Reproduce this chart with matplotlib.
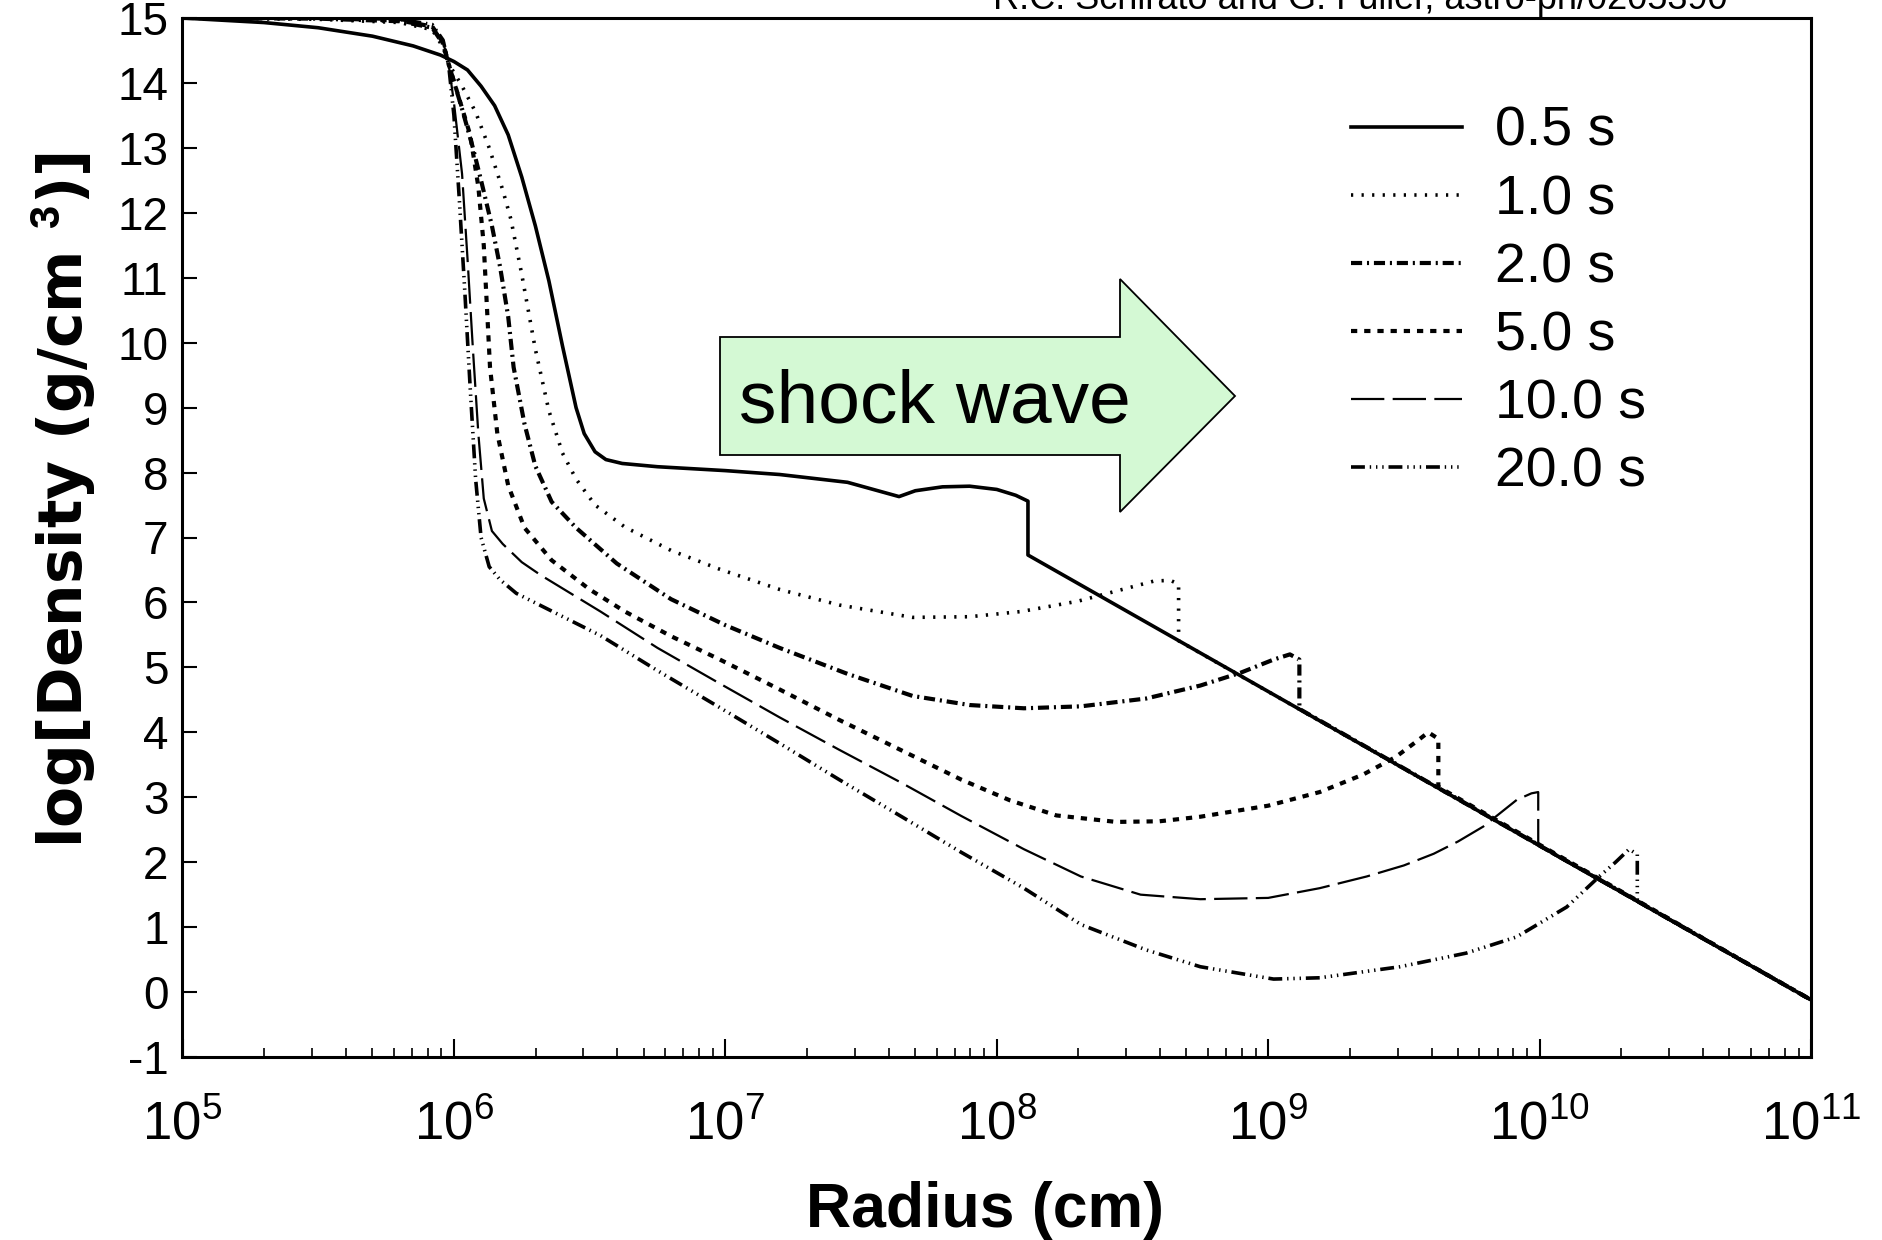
import matplotlib.pyplot as plt
import numpy as np
from matplotlib.patches import Polygon

plt.rcParams['font.family'] = ['Liberation Sans', 'DejaVu Sans']
plt.rcParams['mathtext.fontset'] = 'custom'
plt.rcParams['mathtext.rm'] = 'Liberation Sans'
plt.rcParams['mathtext.it'] = 'Liberation Sans:italic'
plt.rcParams['mathtext.bf'] = 'Liberation Sans:bold'
plt.rcParams['axes.unicode_minus'] = False
plt.rcParams['lines.scale_dashes'] = False

# time labels of the density profiles
times = ['0.5 s', '1.0 s', '2.0 s', '5.0 s', '10.0 s', '20.0 s']

# log10(radius / cm) and log10(density / g cm^-3)
logr_05 = [5.0, 5.3, 5.5, 5.7, 5.85, 5.95, 6.0, 6.05, 6.1, 6.15, 6.2, 6.25, 6.3, 6.35,
           6.4, 6.45, 6.48, 6.52, 6.56, 6.62, 6.75, 7.0, 7.2, 7.45, 7.64, 7.7, 7.8,
           7.9, 8.0, 8.07, 8.115, 8.115, 11.0]
rho_05 = [15.0, 14.93, 14.85, 14.72, 14.57, 14.43, 14.33, 14.2, 13.95, 13.65, 13.2,
          12.55, 11.8, 10.95, 9.95, 9.0, 8.6, 8.32, 8.2, 8.14, 8.09, 8.03, 7.97, 7.85,
          7.63, 7.72, 7.78, 7.79, 7.74, 7.65, 7.56, 6.73, -0.12]

logr_10 = [5.0, 5.5, 5.8, 5.92, 5.96, 5.98, 6.03, 6.08, 6.13, 6.18, 6.21, 6.25, 6.3,
           6.35, 6.4, 6.45, 6.52, 6.63, 6.8, 6.98, 7.2, 7.42, 7.69, 7.9, 8.09, 8.3,
           8.49, 8.58, 8.64, 8.67, 8.67, 11.0]
rho_10 = [15.0, 14.98, 14.93, 14.82, 14.55, 14.3, 13.95, 13.55, 13.0, 12.35, 11.9,
          11.05, 9.9, 8.95, 8.3, 7.9, 7.5, 7.16, 6.8, 6.51, 6.2, 5.96, 5.77, 5.78,
          5.86, 6.02, 6.23, 6.33, 6.34, 6.28, 5.41, -0.12]

logr_20 = [5.0, 5.5, 5.8, 5.92, 5.96, 5.98, 6.03, 6.07, 6.1, 6.14, 6.17, 6.2, 6.22,
           6.26, 6.3, 6.36, 6.45, 6.6, 6.8, 7.0, 7.2, 7.45, 7.69, 7.9, 8.1, 8.31,
           8.55, 8.75, 8.9, 9.02, 9.08, 9.115, 9.115, 11.0]
rho_20 = [15.0, 14.99, 14.95, 14.85, 14.6, 14.3, 13.6, 13.0, 12.5, 11.8, 11.17, 10.4,
          9.62, 8.75, 8.1, 7.55, 7.15, 6.6, 6.05, 5.65, 5.3, 4.9, 4.56, 4.42, 4.37,
          4.4, 4.52, 4.72, 4.92, 5.12, 5.2, 5.12, 4.36, -0.12]

logr_50 = [5.0, 5.5, 5.8, 5.92, 5.96, 5.98, 6.02, 6.06, 6.09, 6.11, 6.133, 6.16, 6.2,
           6.26, 6.36, 6.5, 6.63, 6.8, 6.98, 7.2, 7.42, 7.65, 7.87, 8.05, 8.22, 8.44,
           8.6, 8.75, 9.0, 9.19, 9.35, 9.47, 9.55, 9.59, 9.627, 9.627, 11.0]
rho_50 = [15.02, 15.0, 14.96, 14.87, 14.62, 14.3, 13.75, 13.2, 12.4, 11.5, 9.62, 8.6,
          7.8, 7.15, 6.65, 6.2, 5.86, 5.48, 5.12, 4.66, 4.19, 3.72, 3.27, 2.95, 2.72,
          2.62, 2.63, 2.7, 2.87, 3.08, 3.35, 3.62, 3.87, 4.0, 3.9, 3.16, -0.12]

logr_100 = [5.0, 5.5, 5.8, 5.92, 5.96, 5.98, 6.0, 6.03, 6.05, 6.07, 6.09, 6.11, 6.14,
            6.18, 6.25, 6.32, 6.54, 6.75, 6.98, 7.2, 7.42, 7.65, 7.87, 8.1, 8.31,
            8.53, 8.75, 9.0, 9.19, 9.363, 9.5, 9.61, 9.7, 9.793, 9.916, 9.97, 9.995,
            9.995, 11.0]
rho_100 = [15.03, 15.01, 14.97, 14.88, 14.64, 14.3, 13.7, 12.6, 11.3, 9.9, 8.6, 7.6,
           7.1, 6.9, 6.62, 6.42, 5.86, 5.3, 4.75, 4.23, 3.73, 3.22, 2.71, 2.2, 1.78,
           1.5, 1.43, 1.45, 1.6, 1.78, 1.95, 2.13, 2.32, 2.55, 2.96, 3.06, 3.08, 2.25,
           -0.12]

logr_200 = [5.0, 5.5, 5.8, 5.92, 5.96, 5.98, 6.0, 6.02, 6.04, 6.06, 6.08, 6.1, 6.13,
            6.17, 6.23, 6.54, 6.75, 6.98, 7.2, 7.42, 7.65, 7.87, 8.1, 8.31, 8.55,
            8.75, 9.02, 9.19, 9.486, 9.73, 9.916, 10.1, 10.22, 10.28, 10.33, 10.36,
            10.36, 11.0]
rho_200 = [15.04, 15.02, 14.98, 14.9, 14.66, 14.3, 13.5, 12.2, 10.8, 9.3, 7.9, 7.0,
           6.55, 6.35, 6.14, 5.49, 4.95, 4.38, 3.83, 3.27, 2.7, 2.15, 1.6, 1.04, 0.65,
           0.39, 0.2, 0.22, 0.39, 0.6, 0.85, 1.31, 1.78, 2.0, 2.2, 2.12, 1.4, -0.12]

all_logr = [logr_05, logr_10, logr_20, logr_50, logr_100, logr_200]
all_rho = [rho_05, rho_10, rho_20, rho_50, rho_100, rho_200]

# line styles (dash lengths in points)
styles = [dict(ls='-', lw=2.6),
          dict(ls=(0, (1.6, 6)), lw=2.6),
          dict(ls=(0, (8, 3.5, 1.5, 3.5)), lw=3.0),
          dict(ls=(0, (4.5, 5)), lw=3.0),
          dict(ls=(0, (24, 6)), lw=1.6),
          dict(ls=(0, (10, 3.5, 1, 3.5, 1, 3.5, 1, 3.5)), lw=2.6)]

W, H = 1883, 1240
fig = plt.figure(figsize=(W / 100, H / 100), dpi=100)
ax = fig.add_axes([182.5 / W, 1 - 1057 / H, 1628.5 / W, 1039 / H])

for lr, rho, lab, st in zip(all_logr, all_rho, times, styles):
    ax.plot(10 ** np.array(lr), rho, color='black', label=lab, **st)

ax.set_xscale('log')
ax.set_xlim(1e5, 1e11)
ax.set_ylim(-1, 15)
ax.set_yticks(range(-1, 16))

for s in ax.spines.values():
    s.set_linewidth(2.2)

ax.tick_params(axis='y', which='major', direction='in', length=11, width=1.5,
               labelsize=33, pad=10)
ax.tick_params(axis='x', which='major', direction='in', length=13, width=1.5,
               labelsize=38, pad=31)
ax.tick_params(axis='x', which='minor', direction='in', length=6.5, width=1.2)

ax.set_xlabel('Radius (cm)', fontsize=45, fontweight='bold')
ax.xaxis.set_label_coords(0.4928, -0.119)
ax.set_ylabel('log[Density (g/cm $^\\mathbf{3}$)]', fontsize=43, fontweight='bold',
              family=['DejaVu Sans'])
ax.yaxis.set_label_coords(-0.052, 0.536)

# legend
ax.legend(loc='upper left', bbox_to_anchor=(1351 / W, 1 - 106 / H),
          bbox_transform=fig.transFigure, frameon=False, fontsize=40,
          borderpad=0, borderaxespad=0, handlelength=2.0, handletextpad=0.6,
          labelspacing=0.29)

# shock wave arrow
arrow_px = [(720, 337), (1120, 337), (1120, 279), (1235, 396), (1120, 512),
            (1120, 455), (720, 455)]
arrow = Polygon([(x / W, 1 - y / H) for x, y in arrow_px], closed=True,
                transform=fig.transFigure, facecolor='#d4f9d4', edgecolor='black',
                linewidth=1.3)
fig.add_artist(arrow)
fig.text(739 / W, 1 - 423 / H, 'shock wave', fontsize=54, ha='left', va='baseline')

# credit line, cut by the top edge
fig.text(1360 / W, 1 - 9 / H, 'R.C. Schirato and G. Fuller, astro-ph/0205390',
         fontsize=26, ha='center', va='baseline')

plt.savefig('out.png', dpi=100)
